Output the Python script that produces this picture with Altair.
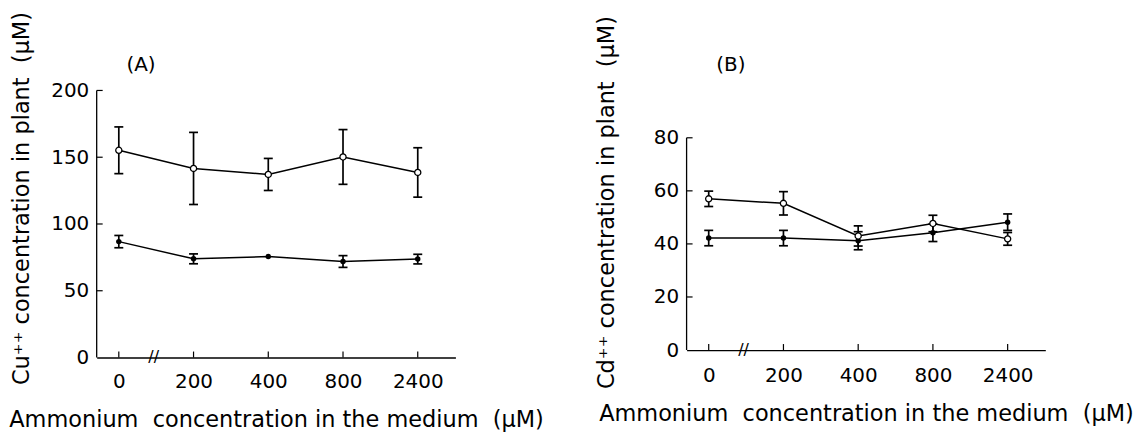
import altair as alt
import pandas as pd

# ---------------- data ----------------
categories = ["0", "200", "400", "800", "2400"]

# Panel A: Cu++ concentration in plant (uM)
cu_open = [155.2, 141.6, 137.1, 150.2, 138.6]
cu_open_err = [17.5, 27.0, 12.0, 20.5, 18.5]
cu_filled = [86.8, 73.9, 75.6, 71.9, 73.7]
cu_filled_err = [4.6, 3.7, 0.0, 4.4, 3.6]
cu_ticks = [0, 50, 100, 150, 200]

# Panel B: Cd++ concentration in plant (uM)
cd_open = [57.0, 55.3, 43.0, 47.7, 41.9]
cd_open_err = [2.9, 4.4, 3.8, 3.1, 2.4]
cd_filled = [42.2, 42.2, 41.2, 44.2, 48.2]
cd_filled_err = [2.9, 2.9, 3.4, 3.3, 3.1]
cd_ticks = [0, 20, 40, 60, 80]

FONT = "DejaVu Sans"
NB = "\u00a0"
XTITLE = "Ammonium" + NB + " concentration in the medium" + NB + " (\u03bcM)"


def make_panel(label, ytitle, open_v, open_e, filled_v, filled_e, ticks,
               height, domain_max, title_x, title_y, label_pad, xtitle_y):
    rows = []
    for c, v, e in zip(categories, open_v, open_e):
        rows.append({"c": c, "series": "open", "v": v, "lo": v - e, "hi": v + e, "e": e})
    for c, v, e in zip(categories, filled_v, filled_e):
        rows.append({"c": c, "series": "filled", "v": v, "lo": v - e, "hi": v + e, "e": e})
    df = pd.DataFrame(rows)
    tick_df = pd.DataFrame({"t": ticks[1:]})

    yscale = alt.Scale(domain=[0, domain_max], nice=False, zero=True)
    xscale = alt.Scale(type="point", padding=0.4, align=0.37)

    xaxis = alt.Axis(
        title=XTITLE, titleFont=FONT, titleFontSize=22.5, titleFontWeight="normal",
        titleColor="black", titleX=180, titleY=xtitle_y, titleAlign="center",
        titleBaseline="alphabetic",
        labelFont=FONT, labelFontSize=20, labelColor="black", labelPadding=label_pad,
        labelAngle=0, ticks=False, tickSize=0, domainColor="black", domainWidth=1.3,
        grid=False,
    )
    yaxis = alt.Axis(
        title=ytitle, values=ticks, titleFont=FONT, titleFontSize=22.5,
        titleFontWeight="normal", titleColor="black", titleX=title_x, titleY=title_y,
        titleAlign="center", titleBaseline="alphabetic",
        labelFont=FONT, labelFontSize=20, labelColor="black", labelPadding=8,
        ticks=False, tickSize=0, domain=False, grid=False,
    )

    def X(field):
        return alt.X(field, type="nominal", sort=categories, scale=xscale, axis=xaxis)

    def Y(field):
        return alt.Y(field, type="quantitative", scale=yscale, axis=yaxis)

    base = alt.Chart(df)

    lines = base.mark_line(color="black", strokeWidth=1.5).encode(
        x=X("c"), y=Y("v"), detail="series:N"
    )
    eb = base.transform_filter("datum.e > 0")
    bars = eb.mark_rule(color="black", strokeWidth=1.7).encode(
        x=X("c"), y=Y("lo"), y2="hi:Q"
    )
    cap_lo = eb.mark_tick(
        color="black", orient="horizontal", size=9, thickness=1.7, opacity=1
    ).encode(x=X("c"), y=Y("lo"))
    cap_hi = eb.mark_tick(
        color="black", orient="horizontal", size=9, thickness=1.7, opacity=1
    ).encode(x=X("c"), y=Y("hi"))
    pts_filled = base.transform_filter("datum.series == 'filled'").mark_circle(
        color="black", size=30, opacity=1
    ).encode(x=X("c"), y=Y("v"))
    pts_open = base.transform_filter("datum.series == 'open'").mark_point(
        shape="circle", filled=True, fill="white", stroke="black", strokeWidth=1.3,
        size=38, opacity=1
    ).encode(x=X("c"), y=Y("v"))

    # axis decorations: y-axis line up to the top tick, inward ticks, axis break, panel label
    yline = alt.Chart(pd.DataFrame({"a": [0], "b": [ticks[-1]]})).mark_rule(
        color="black", strokeWidth=1.3
    ).encode(x=alt.value(0), y=Y("a"), y2="b:Q")
    yticks = alt.Chart(tick_df).mark_tick(
        color="black", orient="horizontal", size=6, thickness=1.2, opacity=1
    ).encode(x=alt.value(3), y=Y("t"))
    zero_df = pd.DataFrame({"c": categories, "z": [0] * len(categories)})
    xticks = alt.Chart(zero_df).mark_tick(
        color="black", orient="vertical", size=6, thickness=1.2, opacity=1, yOffset=-3
    ).encode(x=X("c"), y=Y("z"))
    brk = alt.Chart(zero_df).transform_filter("datum.c == '0'").mark_text(
        text="//", font=FONT, fontSize=16, color="black", dx=35, baseline="middle",
        align="center"
    ).encode(x=X("c"), y=Y("z"))
    lab = alt.Chart(pd.DataFrame({"l": [label]})).mark_text(
        font=FONT, fontSize=20, color="black", baseline="middle", align="center"
    ).encode(text="l:N", x=alt.value(44.5), y=alt.value(-26))

    return alt.layer(
        lines, bars, cap_lo, cap_hi, pts_filled, pts_open, yline, yticks, xticks, brk, lab
    ).properties(width=360, height=height)


panel_a = make_panel(
    "(A)", "Cu\u207a\u207a concentration in plant" + NB + " (\u03bcM)",
    cu_open, cu_open_err, cu_filled, cu_filled_err, cu_ticks,
    height=268, domain_max=200, title_x=-68, title_y=108, label_pad=14, xtitle_y=69,
)
panel_b = make_panel(
    "(B)", "Cd\u207a\u207a concentration in plant" + NB + " (\u03bcM)",
    cd_open, cd_open_err, cd_filled, cd_filled_err, cd_ticks,
    height=260.5, domain_max=80 * 260.5 / 213, title_x=-73, title_y=112, label_pad=16,
    xtitle_y=71,
)

chart = alt.hconcat(panel_a, panel_b, spacing=232, bounds="flush").properties(
    padding={"left": 0, "top": 2, "right": 0, "bottom": 0},
    background="white",
).configure_view(stroke=None)

chart.save("out.html", embed_options={"renderer": "svg", "actions": False})
